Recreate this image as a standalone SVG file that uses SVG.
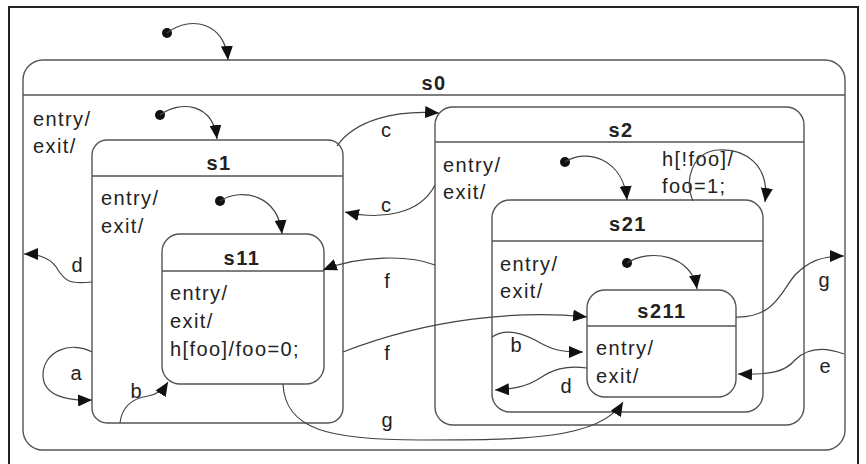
<svg xmlns="http://www.w3.org/2000/svg" width="866" height="464" viewBox="0 0 866 464">
<style>
.box{fill:none;stroke:#555;stroke-width:1.4}
.hl{stroke:#555;stroke-width:1.4}
.t{font-family:"Liberation Sans",Arial,sans-serif;font-size:20px;fill:#222;letter-spacing:1.4px}
.h{font-family:"Liberation Sans",Arial,sans-serif;font-size:20px;font-weight:bold;fill:#222;text-anchor:middle;letter-spacing:1.5px}
.lb{font-family:"Liberation Sans",Arial,sans-serif;font-size:20px;fill:#222;text-anchor:middle}
.c{fill:none;stroke:#444;stroke-width:1.2;marker-end:url(#ah)}
.dot{fill:#111}
</style>
<defs>
<marker id="ah" viewBox="0 0 14 12" refX="14" refY="6" markerWidth="14" markerHeight="12" markerUnits="userSpaceOnUse" orient="auto">
<path d="M0,0 L14,6 L0,12 Z" fill="#111"/>
</marker>
</defs>
<rect x="0" y="0" width="866" height="464" fill="#fff"/>
<rect x="9" y="7" width="849" height="470" fill="none" stroke="#222" stroke-width="2"/>

<g id="s0">
<rect class="box" x="23" y="60" width="822" height="390" rx="20"/>
<line class="hl" x1="23" y1="95" x2="845" y2="95"/>
<text class="h" x="434" y="90">s0</text>
<text class="t" x="33" y="126">entry/</text>
<text class="t" x="33" y="153">exit/</text>
</g>

<g id="s1">
<rect class="box" x="92" y="140" width="251" height="283" rx="15"/>
<line class="hl" x1="92" y1="176" x2="343" y2="176"/>
<text class="h" x="219" y="170">s1</text>
<text class="t" x="101" y="205">entry/</text>
<text class="t" x="101" y="233">exit/</text>
</g>

<g id="s11">
<rect class="box" x="162" y="234" width="162" height="150" rx="18"/>
<line class="hl" x1="162" y1="271" x2="324" y2="271"/>
<text class="h" x="242" y="265">s11</text>
<text class="t" x="170" y="300">entry/</text>
<text class="t" x="170" y="328">exit/</text>
<text class="t" x="170" y="356">h[foo]/foo=0;</text>
</g>

<g id="s2">
<rect class="box" x="435" y="107" width="369" height="318" rx="18"/>
<line class="hl" x1="435" y1="142" x2="804" y2="142"/>
<text class="h" x="621" y="137">s2</text>
<text class="t" x="443" y="172">entry/</text>
<text class="t" x="443" y="199">exit/</text>
<text class="t" x="662" y="166">h[!foo]/</text>
<text class="t" x="662" y="193">foo=1;</text>
</g>

<g id="s21">
<rect class="box" x="492" y="200" width="271" height="212" rx="18"/>
<line class="hl" x1="492" y1="241" x2="763" y2="241"/>
<text class="h" x="628" y="231">s21</text>
<text class="t" x="500" y="271">entry/</text>
<text class="t" x="500" y="298">exit/</text>
</g>

<g id="s211">
<rect class="box" x="587" y="290" width="149" height="107" rx="18"/>
<line class="hl" x1="587" y1="326" x2="736" y2="326"/>
<text class="h" x="662" y="318">s211</text>
<text class="t" x="596" y="355">entry/</text>
<text class="t" x="596" y="383">exit/</text>
</g>

<g id="connectors">
<circle class="dot" cx="167" cy="33" r="5"/>
<path class="c" d="M167,33 C190,15 225,22 228,60"/>
<circle class="dot" cx="160" cy="115" r="5"/>
<path class="c" d="M160,115 C180,100 213,103 217,139"/>
<circle class="dot" cx="220" cy="201" r="5"/>
<path class="c" d="M220,201 C242,187 278,195 282,234"/>
<circle class="dot" cx="565" cy="162" r="5"/>
<path class="c" d="M565,162 C586,148 623,158 627,200"/>
<circle class="dot" cx="627" cy="263" r="5"/>
<path class="c" d="M627,263 C650,248 692,255 697,289"/>

<path class="c" d="M337,146 C355,120 395,110 439,113"/>
<text class="lb" x="386" y="137">c</text>
<path class="c" d="M435,185 C420,215 380,220 345,212"/>
<text class="lb" x="386" y="212">c</text>

<path class="c" d="M92,282 C70,284 66,282 58,270 C52,259 40,254 24,254"/>
<text class="lb" x="77" y="272">d</text>
<path class="c" d="M92,352 C70,340 43,352 43,375 C43,395 65,401 92,400"/>
<text class="lb" x="76" y="380">a</text>
<path class="c" d="M120,423 C122,405 135,398 148,396 C158,394 163,390 168,382"/>
<text class="lb" x="136" y="398">b</text>

<path class="c" d="M435,265 C410,255 360,255 323,270"/>
<text class="lb" x="387" y="288">f</text>
<path class="c" d="M343,352 C430,318 520,310 587,317"/>
<text class="lb" x="387" y="360">f</text>
<path class="c" d="M283,384 C285,430 330,440 420,440 C520,440 600,440 623,402"/>
<text class="lb" x="387" y="427">g</text>

<path class="c" d="M693,201 C684,180 692,152 718,150 C745,148 770,165 765,202"/>

<path class="c" d="M492,337 C505,328 520,332 535,340 C552,350 560,352 583,352"/>
<text class="lb" x="516" y="352">b</text>
<path class="c" d="M587,368 C565,365 552,370 540,378 C528,386 515,389 495,390"/>
<text class="lb" x="566" y="393">d</text>

<path class="c" d="M736,317 C775,318 782,290 795,275 C808,262 820,256 844,256"/>
<text class="lb" x="824" y="287">g</text>
<path class="c" d="M844,354 C820,345 805,350 795,360 C785,372 770,375 738,374"/>
<text class="lb" x="825" y="373">e</text>
</g>
</svg>
